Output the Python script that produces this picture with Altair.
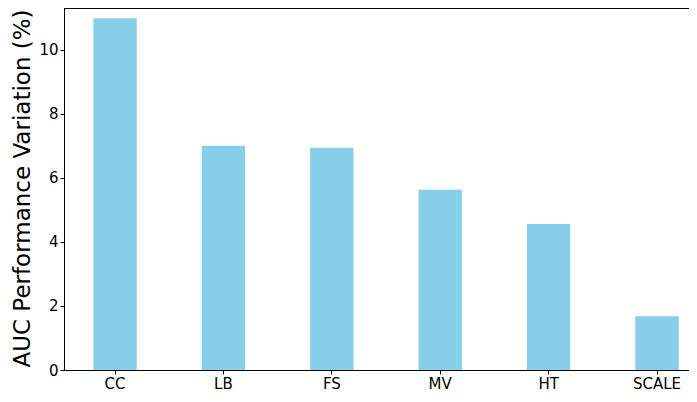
import altair as alt
import pandas as pd

categories = ["CC", "LB", "FS", "MV", "HT", "SCALE"]
values = [10.98, 7.0, 6.94, 5.63, 4.56, 1.68]

df = pd.DataFrame({"category": categories, "value": values})

W = 625
H = 362
FONT = "DejaVu Sans"

bars = alt.Chart(df).mark_bar(color="#87CEEB").encode(
    x=alt.X(
        "category:N",
        sort=categories,
        scale=alt.Scale(paddingInner=0.6, paddingOuter=0.183, align=0.74),
        axis=alt.Axis(
            title=None,
            labelAngle=0,
            labelFont=FONT,
            labelFontSize=15,
            labelColor="black",
            labelPadding=2,
            tickSize=4,
            tickColor="black",
            tickWidth=1,
            domainColor="black",
            domainWidth=1,
        ),
    ),
    y=alt.Y(
        "value:Q",
        scale=alt.Scale(domain=[0, 11.3], nice=False),
        axis=alt.Axis(
            title="AUC Performance Variation (%)",
            values=[0, 2, 4, 6, 8, 10],
            grid=False,
            labelFont=FONT,
            labelFontSize=15,
            labelColor="black",
            labelPadding=2,
            tickSize=4,
            tickColor="black",
            tickWidth=1,
            domainColor="black",
            domainWidth=1,
            titleFont=FONT,
            titleFontSize=23,
            titleFontWeight="normal",
            titleColor="black",
            titleAngle=270,
            titleAlign="center",
            titleBaseline="bottom",
            titleX=-30,
            titleY=180,
        ),
    ),
)

top_line = alt.Chart(df).mark_rule(color="black", strokeWidth=1).encode(
    x=alt.value(0), x2=alt.value(W), y=alt.value(0)
)

chart = (
    alt.layer(bars, top_line)
    .properties(
        width=W,
        height=H,
        autosize=alt.AutoSizeParams(type="none"),
        padding={"left": 56, "top": 0, "right": 0, "bottom": 22},
    )
    .configure_view(stroke=None)
    .configure(background="white")
)

chart.save("out.html", embed_options={"renderer": "svg", "actions": False})
